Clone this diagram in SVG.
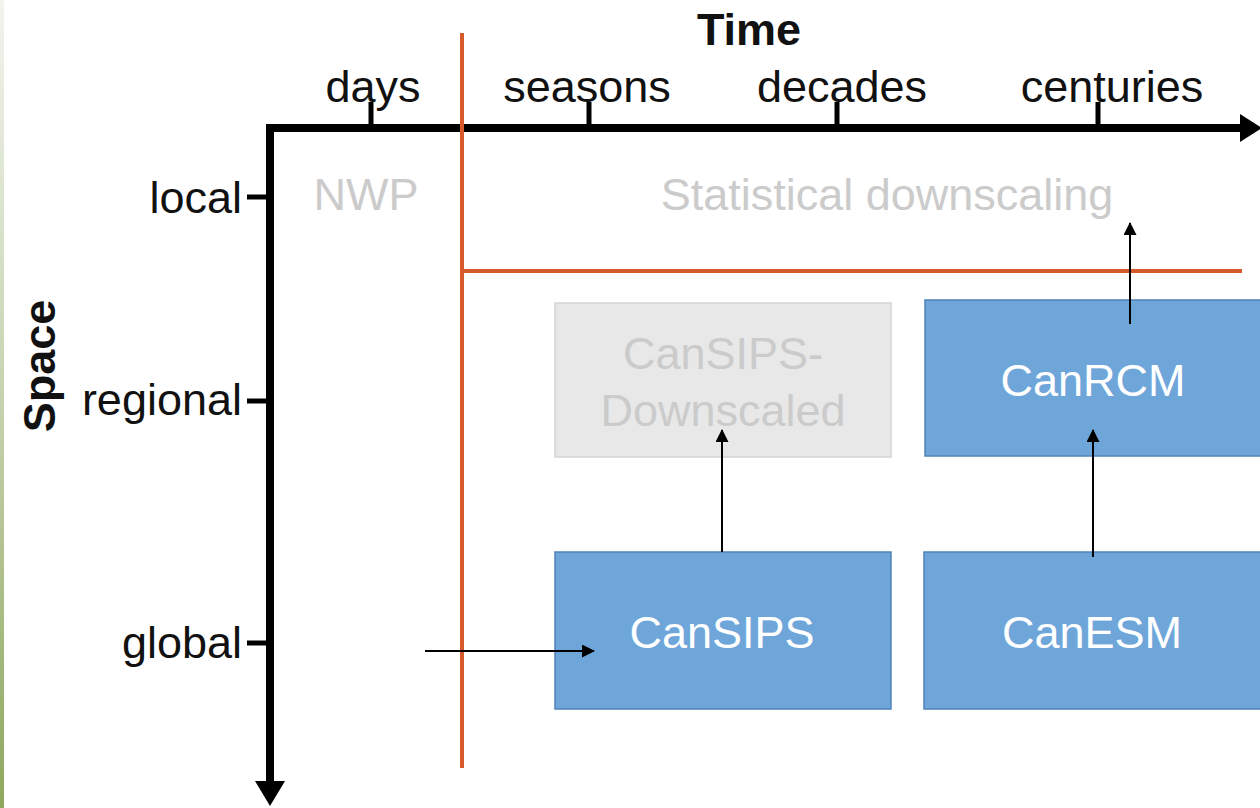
<svg xmlns="http://www.w3.org/2000/svg" width="1260" height="808" viewBox="0 0 1260 808">
<defs>
<linearGradient id="strip" x1="0" y1="0" x2="0" y2="1">
<stop offset="0" stop-color="#f2f4ee"/>
<stop offset="0.5" stop-color="#c6d2ae"/>
<stop offset="1" stop-color="#8ea75c"/>
</linearGradient>
<marker id="ah" markerWidth="13" markerHeight="13" refX="12" refY="6.5" orient="auto" markerUnits="userSpaceOnUse" viewBox="0 0 13 13">
<path d="M0,0 L13,6.5 L0,13 Z" fill="#000"/>
</marker>
</defs>
<style>
text{font-family:"Liberation Sans",Arial,sans-serif;font-size:45px}
.lbl{fill:#111}
.bold{font-weight:bold}
.faint{fill:#cbcbcb}
.wt{fill:#fff}
.ax{stroke:#000;stroke-width:8;fill:none}
.tick{stroke:#000;stroke-width:5}
.org{stroke:#d65a2c;stroke-width:4}
.blue{fill:#6fa6da;stroke:#4f82b8;stroke-width:1.5}
.grey{fill:#e8e8e8;stroke:#d4d4d4;stroke-width:1.5}
.conn{stroke:#000;stroke-width:2;fill:none}
</style>
<rect width="1260" height="808" fill="#fff"/>
<rect x="0" y="0" width="4" height="808" fill="url(#strip)"/>

<g id="axes">
<path class="ax" d="M270,783 L270,128 L1240,128"/>
<polygon points="1240,114 1262,128 1240,142" fill="#000"/>
<polygon points="255,781 285,781 270,806" fill="#000"/>
<line class="tick" x1="371" y1="102" x2="371" y2="128"/>
<line class="tick" x1="589" y1="102" x2="589" y2="128"/>
<line class="tick" x1="837" y1="102" x2="837" y2="128"/>
<line class="tick" x1="1098" y1="102" x2="1098" y2="128"/>
<line class="tick" x1="247" y1="197" x2="270" y2="197"/>
<line class="tick" x1="247" y1="401" x2="270" y2="401"/>
<line class="tick" x1="247" y1="643" x2="270" y2="643"/>
<text class="lbl bold" x="749" y="45" text-anchor="middle">Time</text>
<text class="lbl" x="373" y="102" text-anchor="middle">days</text>
<text class="lbl" x="587" y="102" text-anchor="middle">seasons</text>
<text class="lbl" x="842" y="102" text-anchor="middle">decades</text>
<text class="lbl" x="1112" y="102" text-anchor="middle">centuries</text>
<text class="lbl" x="242" y="213" text-anchor="end">local</text>
<text class="lbl" x="242" y="415" text-anchor="end">regional</text>
<text class="lbl" x="242" y="658" text-anchor="end">global</text>
<text class="lbl bold" x="0" y="0" text-anchor="middle" transform="translate(55,366) rotate(-90)">Space</text>
</g>

<g id="dividers">
<line class="org" x1="462" y1="33" x2="462" y2="768"/>
<line class="org" x1="462" y1="271" x2="1242" y2="271"/>
</g>

<g id="nwp"><text class="faint" x="366" y="210" text-anchor="middle">NWP</text></g>
<g id="statistical-downscaling"><text class="faint" x="887" y="210" text-anchor="middle">Statistical downscaling</text></g>

<g id="cansips-downscaled">
<rect class="grey" x="555" y="303" width="336" height="154"/>
<text class="faint" x="723" y="369" text-anchor="middle">CanSIPS-</text>
<text class="faint" x="723" y="426" text-anchor="middle">Downscaled</text>
</g>
<g id="canrcm">
<rect class="blue" x="925" y="300" width="340" height="156"/>
<text class="wt" x="1093" y="396" text-anchor="middle">CanRCM</text>
</g>
<g id="cansips">
<rect class="blue" x="555" y="552" width="336" height="157"/>
<text class="wt" x="722" y="648" text-anchor="middle">CanSIPS</text>
</g>
<g id="canesm">
<rect class="blue" x="924" y="552" width="340" height="157"/>
<text class="wt" x="1092" y="648" text-anchor="middle">CanESM</text>
</g>

<g id="connectors">
<line class="conn" x1="722" y1="552" x2="722" y2="430" marker-end="url(#ah)"/>
<line class="conn" x1="1093" y1="557" x2="1093" y2="430" marker-end="url(#ah)"/>
<line class="conn" x1="1130" y1="324" x2="1130" y2="223" marker-end="url(#ah)"/>
<line class="conn" x1="425" y1="651" x2="594" y2="651" marker-end="url(#ah)"/>
</g>
</svg>
